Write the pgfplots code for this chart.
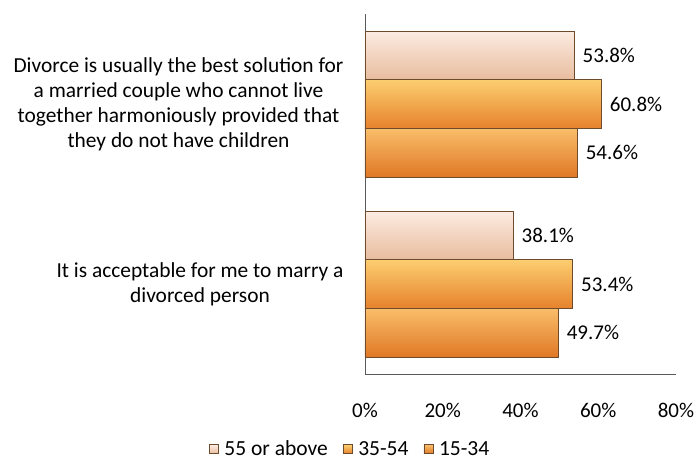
\documentclass[border=0pt]{standalone}
\usepackage{pgfplots}
\pgfplotsset{compat=1.18}
\usepackage{fontspec}
\setmainfont{Carlito}
\definecolor{axcol}{RGB}{90,90,90}
\definecolor{edgecol}{RGB}{110,75,45}
\pgfplotsset{
  bA/.style={draw=edgecol, line width=0.5pt, top color={rgb,255:red,252;green,236;blue,226}, middle color={rgb,255:red,246;green,214;blue,194}, bottom color={rgb,255:red,232;green,188;blue,158}},
  bB/.style={draw=edgecol, line width=0.5pt, top color={rgb,255:red,252;green,206;blue,112}, middle color={rgb,255:red,246;green,164;blue,72}, bottom color={rgb,255:red,230;green,130;blue,44}},
  bC/.style={draw=edgecol, line width=0.5pt, top color={rgb,255:red,249;green,190;blue,106}, middle color={rgb,255:red,243;green,154;blue,68}, bottom color={rgb,255:red,224;green,120;blue,38}},
}
\begin{document}
\begin{tikzpicture}
\begin{axis}[
  name=ax,
  scale only axis,
  width=311pt, height=360pt,
  xbar,
  bar width=0.27,
  xmin=0, xmax=80,
  ymin=-0.5, ymax=1.5,
  axis x line*=bottom,
  axis y line*=left,
  axis line style={axcol, line width=0.8pt},
  major tick length=0pt,
  xtick={0,20,40,60,80},
  xticklabel={\pgfmathprintnumber{\tick}\%},
  /pgf/number format/assume math mode=true,
  xticklabel style={font=\fontsize{21}{24}\selectfont, yshift=-26pt},
  ytick={0,1},
  yticklabels={{It is acceptable for me to marry a\\divorced person},
               {Divorce is usually the best solution for\\a married couple who cannot live\\together harmoniously provided that\\they do not have children}},
  yticklabel style={align=center, font=\fontsize{21.4}{25}\selectfont, xshift=-18pt},
  point meta=x,
  nodes near coords={\pgfmathprintnumber[fixed,precision=1,fixed zerofill]{\pgfplotspointmeta}\%},
  nodes near coords style={font=\fontsize{21}{24}\selectfont, anchor=west, xshift=5pt, text=black},
  legend image code/.code={\draw[#1] (0pt,-4.5pt) rectangle (9pt,4.5pt);},
  legend columns=3,
  legend style={draw=none, fill=none, inner sep=1pt, at={(-0.048,-0.209)}, anchor=center, font=\fontsize{21.5}{24}\selectfont,
    /tikz/every even column/.append style={column sep=13pt},
    /tikz/every odd column/.append style={column sep=4pt}},
  clip=false,
]
\addplot[bar shift=0.27, bA] coordinates {(53.8,1)};
\addplot[bar shift=0, bB] coordinates {(60.8,1)};
\addplot[bar shift=-0.27, bC] coordinates {(54.6,1)};
\addplot[bar shift=0.27, bA, forget plot] coordinates {(38.1,0)};
\addplot[bar shift=0, bB, forget plot] coordinates {(53.4,0)};
\addplot[bar shift=-0.27, bC, forget plot] coordinates {(49.7,0)};
\legend{55 or above, 35-54, 15-34}
\end{axis}
\pgfresetboundingbox
\useasboundingbox ([xshift=-365pt,yshift=-87pt]ax.south west) rectangle ([xshift=23pt,yshift=14pt]ax.north east);
\end{tikzpicture}
\end{document}
